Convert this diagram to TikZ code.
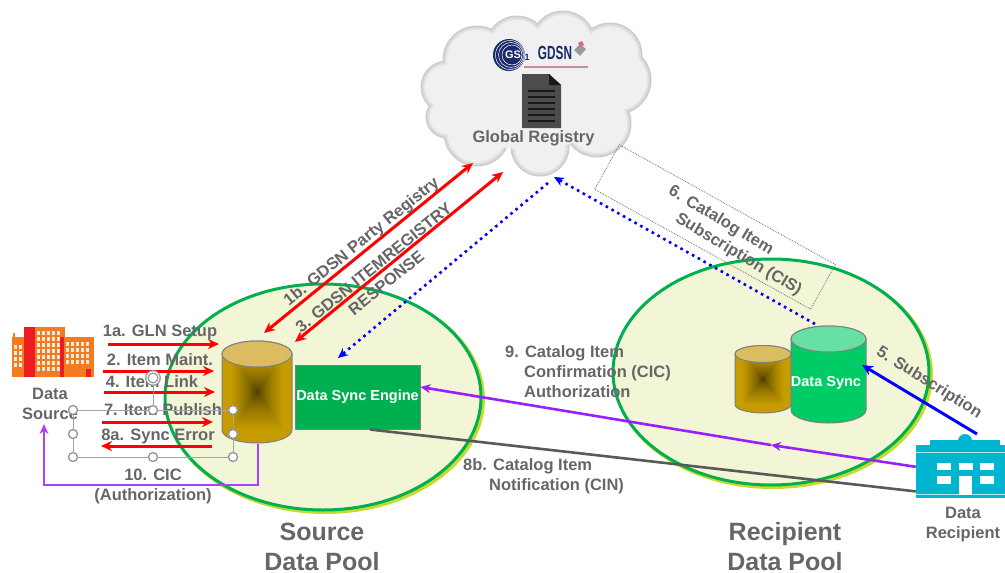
\documentclass[tikz,border=0pt]{standalone}
\usepackage{fontspec}
\usepackage{graphicx}
\setmainfont{Liberation Sans}
\usetikzlibrary{arrows.meta,shapes.geometric}
\definecolor{poolfill}{HTML}{F2F5D6}
\definecolor{poolline}{HTML}{00B050}
\definecolor{poolrim}{HTML}{C6D92E}
\definecolor{inktext}{HTML}{666666}
\definecolor{drumgold}{HTML}{C69C00}
\definecolor{drumdark}{HTML}{3D3000}
\definecolor{drumtop}{HTML}{DCBC60}
\definecolor{syncgreen}{HTML}{00CC66}
\definecolor{synctop}{HTML}{66E0A3}
\definecolor{enginegreen}{HTML}{00B050}
\definecolor{factoryorange}{HTML}{F47B20}
\definecolor{factoryred}{HTML}{ED1C24}
\definecolor{buildingteal}{HTML}{00B5CF}
\definecolor{gsnavy}{HTML}{1B2A6B}
\definecolor{authpurple}{HTML}{9A1FFF}
\definecolor{cinegray}{HTML}{595959}
\tikzset{
    greytext/.style={text=inktext,font=\fontsize{16.5}{20}\selectfont\bfseries,inner sep=0pt,align=center},
    pooltext/.style={text=inktext,font=\fontsize{25}{30}\selectfont\bfseries,inner sep=0pt,align=center},
    whitetext/.style={text=white,font=\fontsize{14.5}{17}\selectfont\bfseries,inner sep=0pt},
    poolshape/.style={ellipse,draw=poolline,fill=poolfill,line width=3pt,minimum width=316pt,minimum height=226pt,inner sep=0pt},
    poolunder/.style={ellipse,fill=poolrim,minimum width=320pt,minimum height=230pt,inner sep=0pt},
    redarrow/.style={draw=red,line width=3pt,-{Stealth[length=11pt,width=10pt]}},
    reddouble/.style={draw=red,line width=3pt,{Stealth[length=11pt,width=10pt]}-{Stealth[length=11pt,width=10pt]}},
    bluedots/.style={draw=blue,line width=2.6pt,dash pattern=on 2.6pt off 4pt,-{Stealth[length=10pt,width=9pt]}},
    seldot/.style={circle,draw=gray!80,fill=white,line width=1.4pt,minimum size=9pt,inner sep=0pt},
}
\newcommand{\drumpath}[5]{% cx, top y, rx, ry, height
    (#1-#3,#2) -- ++(0,#5) arc[start angle=180,end angle=0,x radius=#3,y radius=#4]
        -- ++(0,-#5) arc[start angle=0,end angle=-180,x radius=#3,y radius=#4] -- cycle
}
\newcommand{\golddrum}[5]{% cx, top y, rx, ry, height
    \begin{scope}
    \clip \drumpath{#1}{#2}{#3}{#4}{#5};
    \foreach \t in {100,98,...,1}{
        \pgfmathtruncatemacro\mixv{min(100,100*(\t/75)^0.6)}
        \fill[drumgold!\mixv!drumdark] (#1-#3*\t/100,#2+#5/2-#5/2*\t/100-#4*\t/100) rectangle (#1+#3*\t/100,#2+#5/2+#5/2*\t/100+#4*\t/100);
    }
    \end{scope}
    \draw[gray,line width=1pt] \drumpath{#1}{#2}{#3}{#4}{#5};
    \draw[gray,line width=1pt,fill=drumtop] (#1,#2) ellipse[x radius=#3,y radius=#4];
}
\begin{document}
\begin{tikzpicture}[x=1pt,y=-1pt]
\useasboundingbox (0,0) rectangle (1005,573);
% pools
\node[poolunder] (sourcerim) at (325,399) {};
\node[poolunder] (recipientrim) at (773,374) {};
\node[poolshape] (sourcepool) at (323,397) {};
\node[poolshape] (recipientpool) at (771,372) {};
% cloud
\foreach \grow/\shadecol in {1.5/black!20,0/black!15,-1.5/black!10,-3/black!6}{
    \foreach \cx/\cy/\cr in {477/60/33,517/47/30,563/43/31,610/55/31,617/80/33,597/123/33,540/147/28,477/133/32,447/117/20,447/87/25}{
        \fill[\shadecol] (\cx,\cy) circle[radius=\cr+\grow];
    }
}
\fill[black!6] (530,90) ellipse[x radius=90,y radius=60];
\node[greytext] (registry) at (533.5,138) {Global Registry};
% document icon
\fill[black!70] (522,74) -- (549,74) -- (561,85) -- (561,128) -- (522,128) -- cycle;
\fill[black!90] (549,74) -- (561,85) -- (549,85) -- cycle;
\foreach \ly in {91,97,103,109,115,121}{
    \draw[black!90,line width=1.8pt] (528,\ly) -- (555,\ly);
}
% logo
\node[circle,fill=gsnavy,minimum size=32pt,inner sep=0pt] (gslogo) at (509,55) {};
\draw[white,line width=.5pt] (512,55) circle[radius=10] (511,55) circle[radius=12.5] (510,55) circle[radius=14.5];
\node[text=white,font=\fontsize{11}{12}\selectfont\bfseries,inner sep=0pt] (gstext) at (513,55) {GS};
\node[text=gsnavy,font=\fontsize{9}{10}\selectfont\bfseries,inner sep=0pt] (gsone) at (527,57) {1};
\node[text=gsnavy,font=\fontsize{19}{20}\selectfont\bfseries,inner sep=0pt] (gdsn) at (555,53) {\scalebox{.62}[1]{GDSN}};
\draw[black!30!purple!45,line width=1.3pt] (524,67) -- (588,67);
\fill[black!40] (580,44) -- (586,49) -- (580,56) -- (574,50) -- cycle;
\fill[purple!60] (578,43) -- (582,41) -- (584,45) -- (580,47) -- cycle;
% factory
\fill[factoryorange] (12,337) rectangle (94,377);
\fill[factoryorange] (24,327) rectangle (65,377);
\fill[factoryorange] (13,337) rectangle (15,333);
\fill[factoryred] (24,327) rectangle (35,377);
\fill[factoryred] (60,337) rectangle (64,377);
\fill[factoryred] (86,369) rectangle (91,377);
\foreach \wy in {331,337,343,349,355,361,367}{
    \foreach \wx in {37,42,47,52,57}{
        \fill[white!85!factoryorange] (\wx,\wy) rectangle ++(3,3.5);
    }
}
\foreach \wy in {342,348,354,360}{
    \foreach \wx in {66,71,76,81,86}{
        \fill[white!85!factoryorange] (\wx,\wy) rectangle ++(3,3.5);
    }
}
\foreach \wy in {345,351,357,363}{
    \foreach \wx in {14,19}{
        \fill[white!85!factoryorange] (\wx,\wy) rectangle ++(3,3.5);
    }
}
% building
\node[fill=buildingteal,minimum width=89pt,minimum height=53pt,inner sep=0pt] (recipienticon) at (960.5,471.5) {};
\fill[buildingteal] (930,440) rectangle (1000,446);
\fill[buildingteal] (965,441) circle[radius=7];
\draw[white!70!buildingteal,line width=.8pt] (916,452) -- (1005,452) (916,494) -- (959,494) (972,494) -- (1005,494);
\foreach \wx in {937,959,980}{
    \fill[white] (\wx,463) rectangle ++(13.5,7);
}
\foreach \wx in {937,980}{
    \fill[white] (\wx,476) rectangle ++(13.5,8);
}
\fill[white] (959,476) rectangle (972,495);
% drums
\golddrum{257}{354}{35}{13}{76}
\golddrum{763}{354}{28}{8.5}{50.5}
\draw[gray,line width=1pt,fill=syncgreen] \drumpath{828.5}{339}{37.5}{13}{71};
\draw[gray,line width=1pt,fill=synctop] (828.5,339) ellipse[x radius=37.5,y radius=13];
\node[whitetext] (datasync) at (826,383) {Data Sync};
\node[draw=gray,fill=enginegreen,line width=1pt,minimum width=125pt,minimum height=64pt,inner sep=0pt,whitetext] (dsengine) at (357.5,397) {Data Sync Engine};
% free ends of connectors
\coordinate (party top) at (473,163);
\coordinate (party end) at (264,333);
\coordinate (item top) at (503,172);
\coordinate (item end) at (295,342);
\coordinate (regdots top) at (548,183);
\coordinate (regdots end) at (338,358);
\coordinate (syncdots start) at (815,324);
\coordinate (syncdots end) at (554,177);
\coordinate (roof start) at (977,434);
\coordinate (sync side) at (862,365);
\coordinate (auth mid) at (771,445);
\coordinate (cic start) at (258,444);
\coordinate (cic low) at (258,485);
\coordinate (cic left) at (44,485);
\coordinate (cic end) at (44,424);
\coordinate (a start) at (108,344);
\coordinate (a end) at (219,344);
\coordinate (b start) at (103,371);
\coordinate (b end) at (214,371);
\coordinate (c start) at (104,392);
\coordinate (c end) at (215,392);
\coordinate (d start) at (102,422);
\coordinate (d end) at (213,422);
\coordinate (e start) at (212,446);
\coordinate (e end) at (101,446);
% connectors
\draw[reddouble] (party top) -- (party end);
\draw[reddouble] (item top) -- (item end);
\draw[bluedots] (regdots top) -- (regdots end);
\draw[bluedots] (syncdots start) -- (syncdots end);
\draw[draw=blue,line width=3pt,-{Stealth[length=11pt,width=10pt]}] (roof start) -- (sync side);
\draw[authpurple,line width=2.6pt,-{Stealth[length=10pt,width=9pt]}] (recipienticon.174) -- (auth mid);
\draw[authpurple,line width=2.6pt,-{Stealth[length=10pt,width=9pt]}] (auth mid) -- (dsengine.9);
\draw[cinegray,line width=2.6pt] (dsengine.-69) -- (recipienticon.204);
\draw[authpurple!85!white,line width=2.6pt,-{Stealth[length=10pt,width=9pt]}] (cic start) -- (cic low) -- (cic left) -- (cic end);
\draw[redarrow] (a start) -- (a end);
\draw[redarrow] (b start) -- (b end);
\draw[redarrow] (c start) -- (c end);
\draw[redarrow] (d start) -- (d end);
\draw[redarrow] (e start) -- (e end);
% labels
\node[draw=black!55,densely dotted,line width=.8pt,minimum width=247pt,minimum height=51pt,inner sep=0pt,rotate=-29] (cisbox) at (715,227) {};
\node[greytext,rotate=-31,align=left] (cislabel) at (735,241) {6. Catalog Item\\\hspace*{20pt}Subscription (CIS)};
\node[greytext,rotate=39] (partylabel) at (362,242) {1b. GDSN Party Registry};
\node[greytext,rotate=39] (itemlabel) at (380,275) {3. GDSN ITEMREGISTRY\\RESPONSE};
\node[greytext,rotate=-32] (subslabel) at (929,383) {5. Subscription};
\node[greytext] (glnlabel) at (160,332) {1a. GLN Setup};
\node[greytext] (maintlabel) at (160,360) {2. Item Maint.};
\node[greytext] (linklabel) at (152,382) {4. Item Link};
\node[greytext] (publishlabel) at (163,410) {7. Item Publish};
\node[greytext] (errorlabel) at (158,436) {8a. Sync Error};
\node[greytext] (ciclabel) at (153,486) {10. CIC\\(Authorization)};
\node[greytext] (sourcelabel) at (50,404) {Data\\Source};
\node[greytext] (recipientlabel) at (963,525) {Data\\Recipient};
\node[greytext,align=left,anchor=west] (confirmlabel) at (505,372) {9. Catalog Item\\\hspace*{19pt}Confirmation (CIC)\\\hspace*{19pt}Authorization};
\node[greytext,align=left,anchor=west] (notifylabel) at (463,476) {8b. Catalog Item\\\hspace*{26pt}Notification (CIN)};
\node[pooltext] (sourcepoollabel) at (322,547) {Source\\Data Pool};
\node[pooltext] (recipientpoollabel) at (785,547) {Recipient\\Data Pool};
% selection frame
\node[seldot] (selnw) at (73,410) {};
\node[seldot] (seln) at (153,410) {};
\node[seldot] (selne) at (233,410) {};
\node[seldot] (selw) at (73,434) {};
\node[seldot] (sele) at (233,434) {};
\node[seldot] (selsw) at (73,457) {};
\node[seldot] (sels) at (153,457) {};
\node[seldot] (selse) at (233,457) {};
\node[seldot,double,double distance=1pt,minimum size=12pt] (selrot) at (153,378) {};
\draw[gray!70,line width=.9pt] (selnw) -- (seln) -- (selne) -- (sele) -- (selse) -- (sels) -- (selsw) -- (selw) -- (selnw);
\draw[gray!70,line width=.9pt] (selrot) -- (seln);
\end{tikzpicture}
\end{document}
